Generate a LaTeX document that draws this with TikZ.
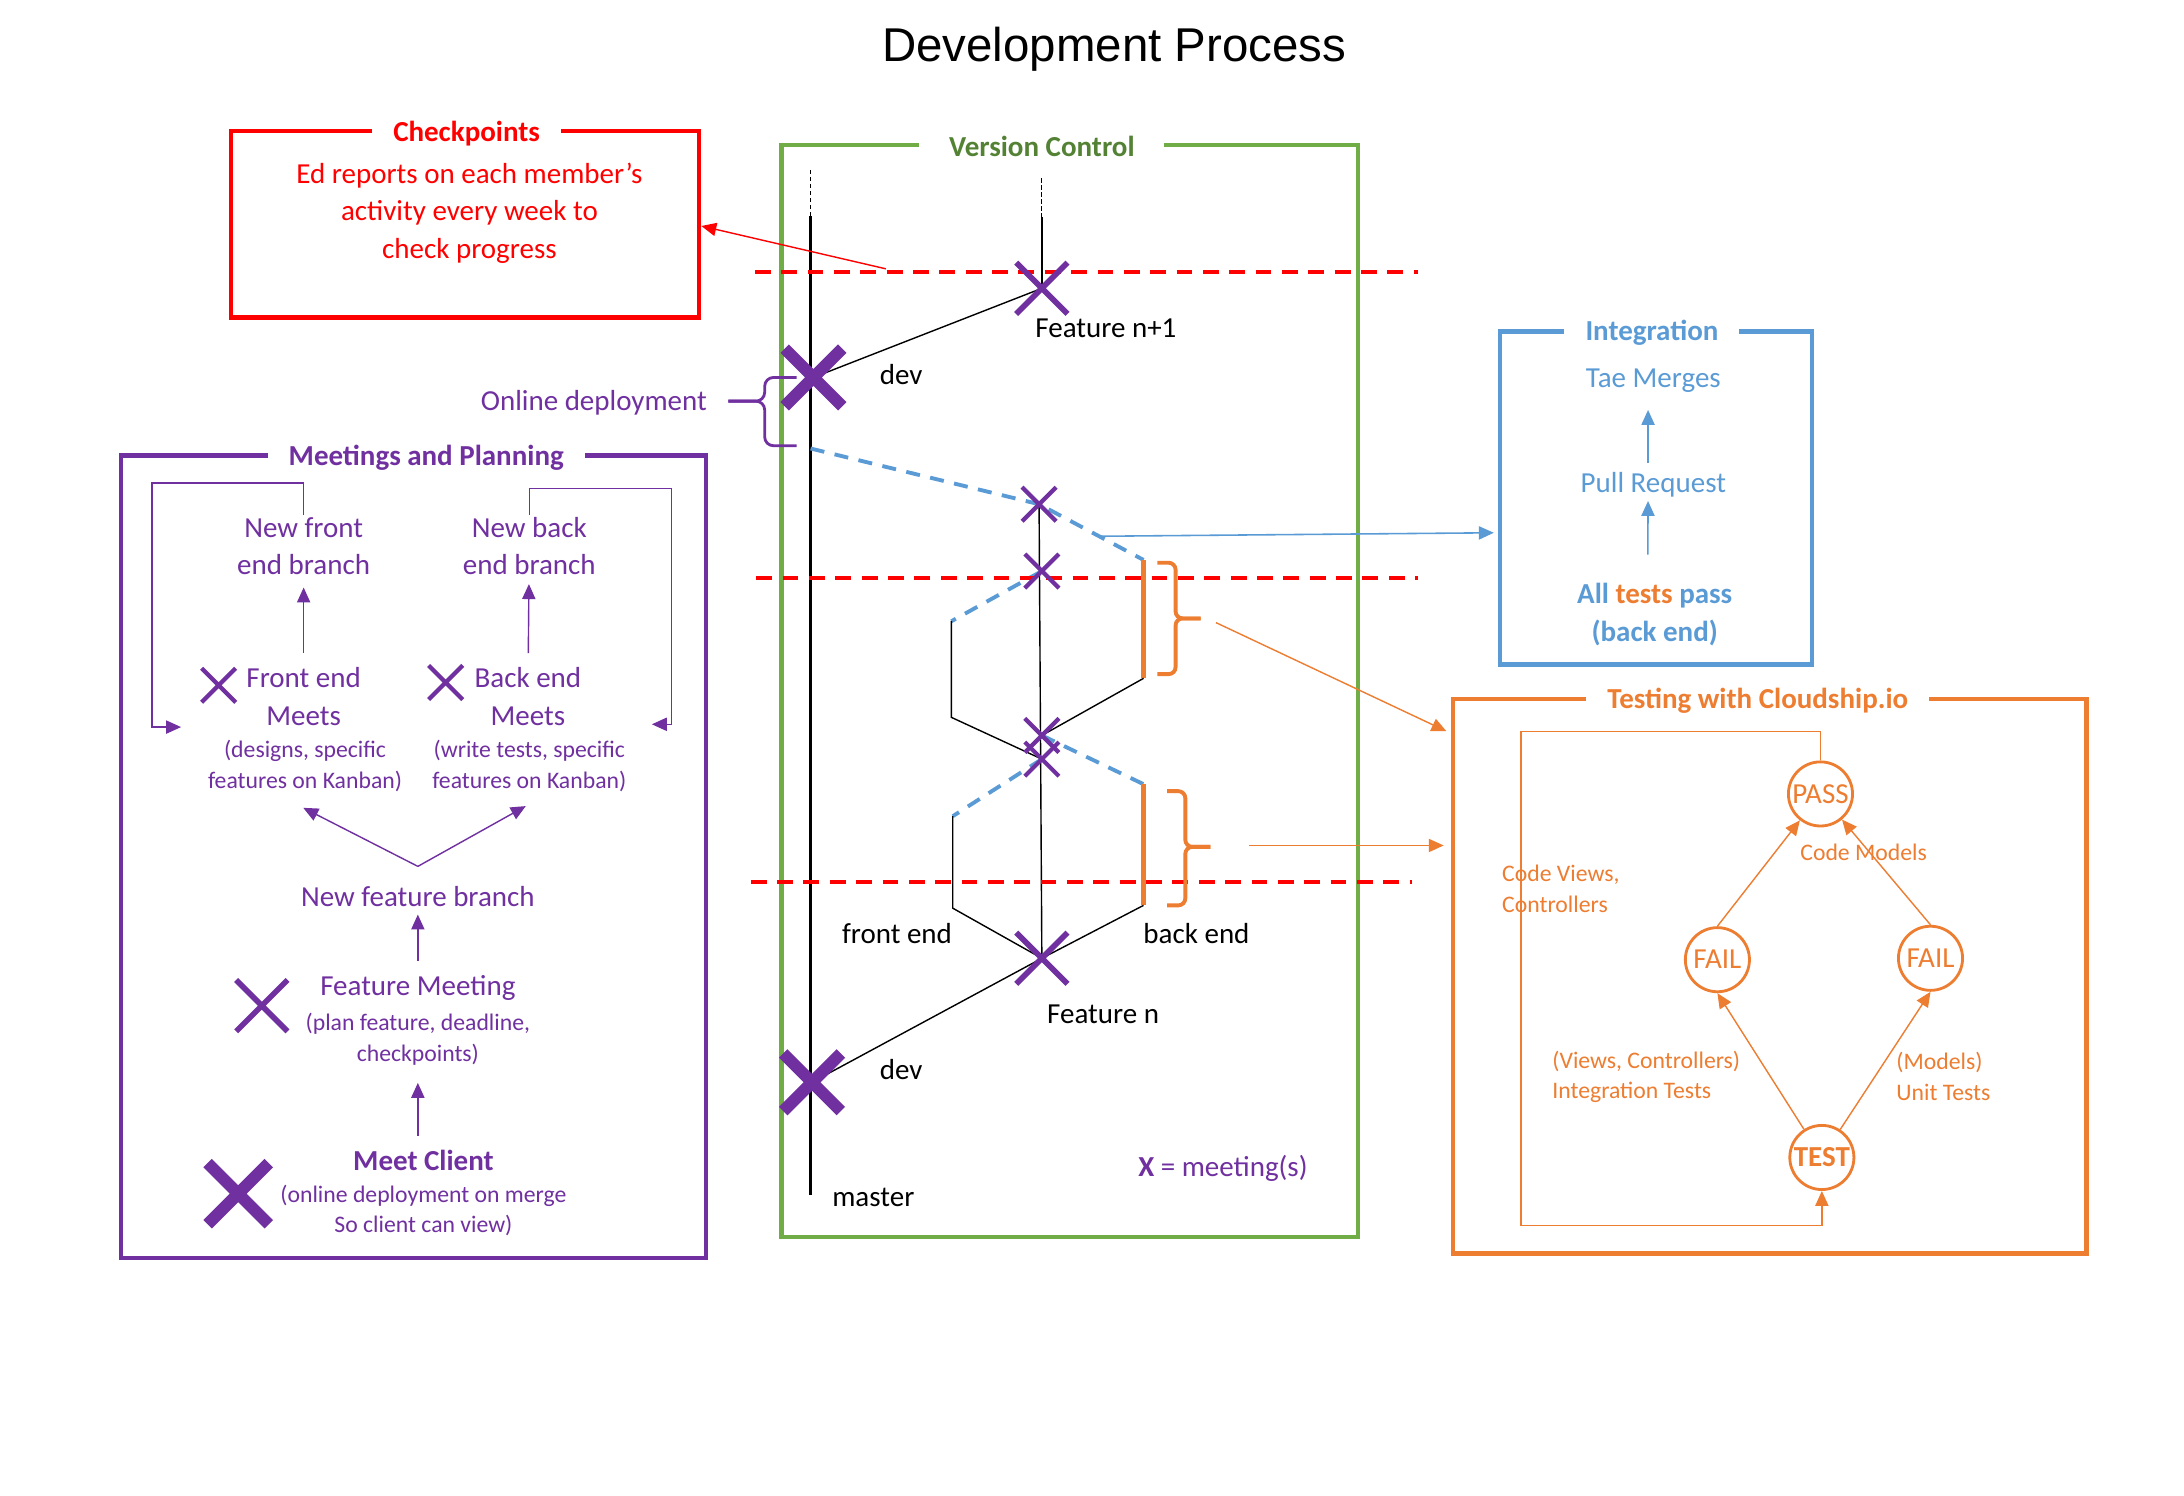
\documentclass[tikz,border=0pt]{standalone}
\usepackage{fontspec}
\setmainfont{Carlito}
\newfontfamily\titlefont{Liberation Sans}
\usetikzlibrary{arrows.meta,positioning,calc,fit,shapes.misc}

\definecolor{chkred}{HTML}{FF0000}
\definecolor{vcgreen}{HTML}{70AD47}
\definecolor{vctext}{HTML}{548235}
\definecolor{mtpurple}{HTML}{7030A0}
\definecolor{intblue}{HTML}{5B9BD5}
\definecolor{tstorange}{HTML}{ED7D31}

\begin{document}
\begin{tikzpicture}[x=0.02786cm,y=-0.02786cm,
  frame/.style={draw=#1,line width=2.4pt,inner sep=0pt},
  boxtitle/.style={fill=white,font=\fontsize{16.5}{20}\selectfont\bfseries,inner xsep=12pt,inner ysep=1pt},
  body/.style={font=\fontsize{16.5}{21.4}\selectfont,align=center,inner sep=1pt},
  small/.style={font=\fontsize{13.5}{17.4}\selectfont,align=center,inner sep=1pt},
  xsmall/.style={cross out,draw=mtpurple,line width=2.4pt,minimum size=17pt,inner sep=0pt},
  xmid/.style={cross out,draw=mtpurple,line width=3.2pt,minimum size=26pt,inner sep=0pt},
  xbig/.style={cross out,draw=mtpurple,line width=6.8pt,minimum size=26pt,inner sep=0pt},
  state/.style={circle,draw=tstorange,line width=1.6pt,text=tstorange,minimum size=36.5pt,inner sep=0pt,font=\fontsize{16.5}{20}\selectfont},
  reddash/.style={draw=chkred,line width=2.4pt,dash pattern=on 9pt off 6pt},
  bluedash/.style={draw=intblue,line width=2.2pt,dash pattern=on 8pt off 6pt},
  tipdash/.style={draw=black,line width=0.7pt,dash pattern=on 2.5pt off 1.5pt},
  master/.style={draw=black,line width=1.5pt},
  branch/.style={draw=black,line width=0.8pt},
  orangeline/.style={draw=tstorange,line width=2.4pt},
  obrace/.style={draw=tstorange,line width=2.2pt,rounded corners=4pt},
  pbrace/.style={draw=mtpurple,line width=1.6pt,rounded corners=5pt},
  parrow/.style={draw=mtpurple,line width=0.8pt,-{Triangle[length=8.5pt,width=7.5pt]}},
  barrow/.style={draw=intblue,line width=0.9pt,-{Triangle[length=8.5pt,width=7.5pt]}},
  oarrow/.style={draw=tstorange,line width=0.8pt,-{Triangle[length=8.5pt,width=7.5pt]}},
  rarrow/.style={draw=chkred,line width=0.8pt,-{Triangle[length=8.5pt,width=7.5pt]}}]

  \fill[white] (0,0) rectangle (1568,1074);
  \useasboundingbox (0,0) rectangle (1568,1074);

  \node[font=\titlefont\fontsize{27}{32}\selectfont] (title) at (800,35) {Development Process};

  % Checkpoints
  \node[frame=chkred,fit={(166,94) (502,228)}] (chkbox) {};
  \node[boxtitle,text=chkred] (chktitle) at (335,96) {Checkpoints};
  \node[body,text=chkred] (chktext) at (337,153) {Ed reports on each member’s\\activity every week to\\check progress};

  % Version Control
  \node[frame=vcgreen,fit={(561,104) (975,888)}] (vcbox) {};
  \node[boxtitle,text=vctext,inner xsep=17pt] (vctitle) at (748,105) {Version Control};

  \coordinate (mastertop) at (582,122);
  \coordinate (masterdash) at (582,155);
  \coordinate (masterend) at (582,858);
  \coordinate (feattop) at (748,128);
  \coordinate (featdash) at (748,156);
  \coordinate (blustart) at (582,322);
  \coordinate (fe1) at (683,446);
  \coordinate (fe2) at (683,515);
  \coordinate (be1) at (821,402);
  \coordinate (be2) at (821,487);
  \coordinate (fe3) at (684,586);
  \coordinate (fe4) at (684,652);
  \coordinate (be3) at (821,563);
  \coordinate (be4) at (821,650);

  \node (xdevt) at (584,271) {};
  \node (xfnn) at (748,207) {};
  \node (xa) at (746,362) {};
  \node (xb) at (748,410) {};
  \node (xc) at (748,528) {};
  \node (xd) at (748,545) {};
  \node (xfn) at (748,688) {};
  \node (xdevb) at (583,777) {};

  \draw[tipdash] (mastertop) -- (masterdash);
  \draw[master] (masterdash) -- (masterend);
  \draw[tipdash] (feattop) -- (featdash);
  \draw[branch] (featdash) -- (xfnn.center);
  \draw[branch] (xa.center) -- (xfn.center);
  \draw[branch] (xdevt.center) -- (xfnn.center);
  \draw[branch] (xdevb.center) -- (xfn.center);

  \draw[bluedash] (blustart) -- (xa.center) -- (be1);
  \draw[orangeline] (be1) -- (be2);
  \draw[branch] (be2) -- (xc.center);
  \draw[bluedash] (xb.center) -- (fe1);
  \draw[branch] (fe1) -- (fe2) -- (xd.center);

  \draw[bluedash] (xc.center) -- (be3);
  \draw[orangeline] (be3) -- (be4);
  \draw[branch] (be4) -- (xfn.center);
  \draw[bluedash] (xd.center) -- (fe3);
  \draw[branch] (fe3) -- (fe4) -- (xfn.center);

  \draw[reddash] (542,195) -- (1018,195);
  \draw[reddash] (543,415) -- (1018,415);
  \draw[reddash] (539,633) -- (1014,633);

  \node[xmid] at (xfnn) {};
  \node[xbig] at (xdevt) {};
  \node[xsmall] at (xa) {};
  \node[xsmall] at (xb) {};
  \node[xsmall] at (xc) {};
  \node[xsmall] at (xd) {};
  \node[xmid] at (xfn) {};
  \node[xbig] at (xdevb) {};

  \draw[obrace] (831,404) -- (844,404) -- (844,444) -- (862,444);
  \draw[obrace] (831,484) -- (844,484) -- (844,444) -- (862,444);
  \draw[obrace] (838,568) -- (851,568) -- (851,608) -- (869,608);
  \draw[obrace] (838,650) -- (851,650) -- (851,608) -- (869,608);

  \draw[pbrace] (572,271) -- (549,271) -- (549,288) -- (523,288);
  \draw[pbrace] (572,320) -- (549,320) -- (549,288) -- (523,288);
  \node[body,text=mtpurple,anchor=east] (online) at (509,289) {Online deployment};

  \node[body] (lfnn) at (794,236) {Feature n+1};
  \node[body] (ldevt) at (647,269) {dev};
  \node[body] (lfront) at (644,670) {front end};
  \node[body] (lback) at (859,670) {back end};
  \node[body] (lfn) at (792,728) {Feature n};
  \node[body] (ldevb) at (647,768) {dev};
  \node[body] (lmaster) at (627,860) {master};
  \node[body,text=mtpurple] (legend) at (878,839) {\textbf{X} = meeting(s)};

  % Meetings and Planning
  \node[frame=mtpurple,fit={(87,327) (507,903)}] (mtbox) {};
  \node[boxtitle,text=mtpurple] (mttitle) at (306,329) {Meetings and Planning};

  \node[body,text=mtpurple] (nfront) at (218,392) {New front\\end branch};
  \node[body,text=mtpurple] (nback) at (380,392) {New back\\end branch};
  \node[body,text=mtpurple] (mfront) at (218,500) {Front end\\Meets};
  \node[body,text=mtpurple] (mback) at (379,500) {Back end\\Meets};
  \node[small,text=mtpurple] (dfront) at (219,550) {(designs, specific\\features on Kanban)};
  \node[small,text=mtpurple] (dback) at (380,550) {(write tests, specific\\features on Kanban)};
  \node[xsmall] (xfront) at (157,492) {};
  \node[xsmall] (xback) at (320,490) {};
  \node[body,text=mtpurple] (nfeat) at (300,644) {New feature branch};
  \node[body,text=mtpurple] (fmeet) at (300,709) {Feature Meeting};
  \node[small,text=mtpurple] (fmeetd) at (300,746) {(plan feature, deadline,\\checkpoints)};
  \node[xmid] (xfeat) at (188,722) {};
  \node[body,text=mtpurple,font=\fontsize{16.5}{21.4}\selectfont\bfseries] (client) at (304,833) {Meet Client};
  \node[small,text=mtpurple] (clientd) at (304,869) {(online deployment on merge\\So client can view)};
  \node[xbig,minimum size=28pt] (xclient) at (171,857) {};

  \coordinate (vtip) at (300,622);
  \coordinate (lfin) at (130,522);
  \coordinate (rfin) at (468,520);

  \draw[parrow,shorten <=7pt,shorten >=6pt] (mfront) -- (nfront);
  \draw[parrow,shorten <=7pt,shorten >=4pt] (mback) -- (nback);
  \draw[parrow] (vtip) -- ([xshift=-1pt,yshift=-8pt]dfront.south);
  \draw[parrow] (vtip) -- ([xshift=-2pt,yshift=-7pt]dback.south);
  \draw[parrow,shorten <=7pt,shorten >=3pt] (fmeet) -- (nfeat);
  \draw[parrow,shorten <=7pt,shorten >=9pt] (client.north -| fmeetd.south) -- (fmeetd.south);
  \draw[parrow] (nfront.north) -- ++(0,-23) -| (109,522) -- (lfin);
  \draw[parrow] (nback.north) -- ++(0,-19) -| (482,520) -- (rfin);

  % Integration
  \node[frame=intblue,fit={(1077,238) (1301,477)}] (intbox) {};
  \node[boxtitle,text=intblue] (inttitle) at (1186,239) {Integration};
  \node[body,text=intblue] (merge) at (1187,273) {Tae Merges};
  \node[body,text=intblue] (pullreq) at (1187,348) {Pull Request};
  \node[body,text=intblue,font=\fontsize{16.5}{21.4}\selectfont\bfseries] (alltests) at (1188,441) {All \textcolor{tstorange}{tests} pass\\(back end)};
  \draw[barrow,shorten <=4pt,shorten >=9pt] ([xshift=-3pt]pullreq.north) -- ([xshift=-3pt]merge.south);
  \draw[barrow,shorten <=15pt,shorten >=1pt] ([xshift=-4pt]alltests.north) -- ([xshift=-3pt]pullreq.south);

  % Testing with Cloudship.io
  \node[frame=tstorange,fit={(1043,502) (1498,900)}] (tstbox) {};
  \node[boxtitle,text=tstorange] (tsttitle) at (1262,503) {Testing with Cloudship.io};
  \node[state] (pass) at (1307,570) {PASS};
  \node[state] (failv) at (1233,689) {FAIL};
  \node[state] (failm) at (1386,688) {FAIL};
  \node[state,font=\fontsize{16.5}{20}\selectfont\bfseries] (test) at (1308,831) {TEST};

  \draw[oarrow] (failv.north) -- (pass);
  \draw[oarrow] (failm.north) -- (pass);
  \draw[oarrow] (test) -- (failv.south);
  \draw[oarrow] (test) -- (failm.south);
  \draw[oarrow] (pass.north) -- ++(0,-21) -| (1092,880) -| (test.south);

  \node[small,text=tstorange] (lcm) at (1338,612) {Code Models};
  \node[small,text=tstorange,anchor=west,align=left] (lcv) at (1077,638) {Code Views,\\Controllers};
  \node[small,text=tstorange,anchor=west,align=left] (lit) at (1113,773) {(Views, Controllers)\\Integration Tests};
  \node[small,text=tstorange,anchor=west,align=left] (lut) at (1360,773) {(Models)\\Unit Tests};

  % links between boxes
  \coordinate (chkfrom) at (636,193);
  \coordinate (intfrom) at (790,385);
  \coordinate (tstfrom1) at (873,447);
  \coordinate (tstfrom2) at (897,607);
  \draw[rarrow] (chkfrom) -- ([yshift=-1pt]chkbox.east);
  \draw[barrow] (intfrom) -- ($(intbox.west)+(-3,25)$);
  \draw[oarrow] (tstfrom1) -- ($(tstbox.west)+(-3,-176)$);
  \draw[oarrow] (tstfrom2) -- ($(tstbox.west)+(-5,-94)$);
\end{tikzpicture}
\end{document}
